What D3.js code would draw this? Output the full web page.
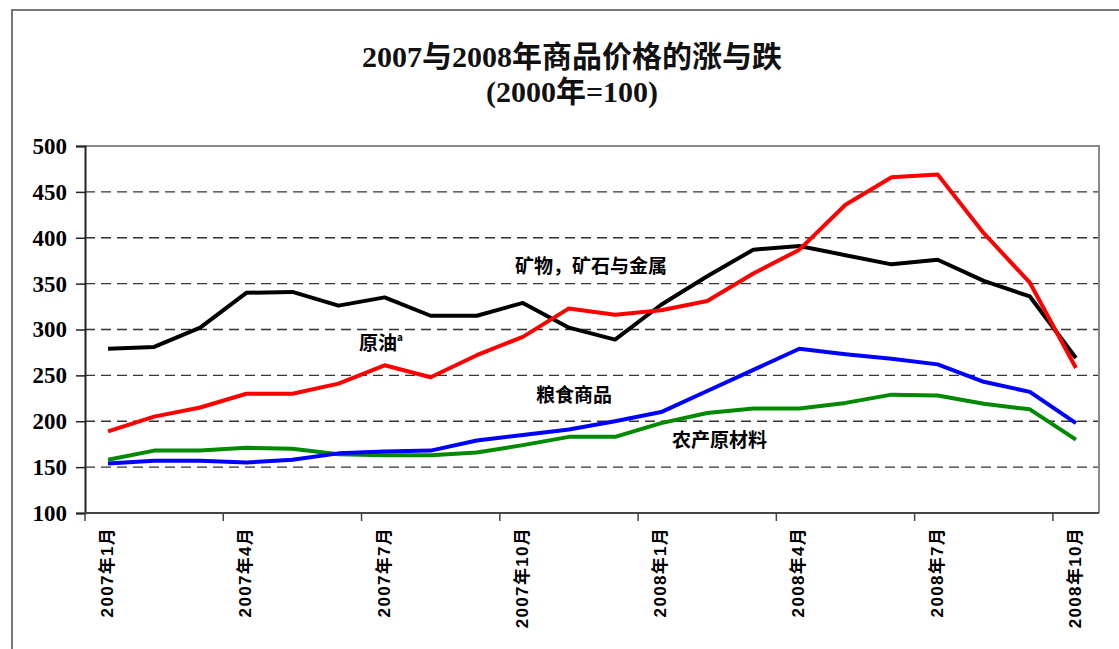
<!DOCTYPE html>
<html>
<head>
<meta charset="utf-8">
<script src="https://cdn.jsdelivr.net/npm/d3@7"></script>
<style>
  body { margin: 0; background: #fff; }
  #chart { width: 1119px; height: 649px; }
</style>
</head>
<body>
<div id="chart"></div>
<script>
// 月份 (類別)
const months = [
  '2007年1月', '2007年2月', '2007年3月', '2007年4月', '2007年5月', '2007年6月',
  '2007年7月', '2007年8月', '2007年9月', '2007年10月', '2007年11月', '2007年12月',
  '2008年1月', '2008年2月', '2008年3月', '2008年4月', '2008年5月', '2008年6月',
  '2008年7月', '2008年8月', '2008年9月', '2008年10月'
]
// 每三個月顯示一個刻度文字
const tickMonths = ['2007年1月', '2007年4月', '2007年7月', '2007年10月',
  '2008年1月', '2008年4月', '2008年7月', '2008年10月']
const yTicks = [100, 150, 200, 250, 300, 350, 400, 450, 500]

// 各系列 (2000年=100)
const metals = [279, 281, 302, 340, 341, 326, 335, 315, 315, 329, 302, 289,
  327, 358, 387, 391, 381, 371, 376, 353, 336, 269]
const crudeOil = [189, 205, 215, 230, 230, 241, 261, 248, 272, 292, 323, 316,
  321, 331, 361, 387, 436, 466, 469, 405, 351, 258]
const food = [154, 157, 157, 155, 158, 165, 167, 168, 179, 185, 191, 200,
  210, 233, 256, 279, 273, 268, 262, 243, 232, 198]
const agriRaw = [158, 168, 168, 171, 170, 164, 163, 163, 166, 174, 183, 183,
  198, 209, 214, 214, 220, 229, 228, 219, 213, 180]

const seriesNames = ['矿物，矿石与金属', '原油', '粮食商品', '农产原材料']

drawChart()

function drawChart() {
  const width = 1119, height = 649
  const left = 85, right = 1099, top = 146, bottom = 513

  const svg = d3.select('#chart')
    .append('svg')
    .attr('width', width)
    .attr('height', height)

  // 外框
  svg.append('rect')
    .attr('x', 12).attr('y', 10)
    .attr('width', 1200).attr('height', 700)
    .attr('fill', 'none')
    .attr('stroke', '#777')
    .attr('stroke-width', 2)

  // 標題
  const title = svg.append('text')
    .attr('text-anchor', 'middle')
    .style('font-family', '"Liberation Serif", "Noto Sans CJK SC", serif')
    .style('font-weight', 'bold')
    .style('font-size', '30px')
    .attr('fill', '#111')
  title.append('tspan').attr('x', 572).attr('y', 67).text('2007与2008年商品价格的涨与跌')
  title.append('tspan').attr('x', 572).attr('y', 102).text('(2000年=100)')

  // X 軸 scale (類別)
  const xScale = d3.scaleBand()
    .domain(months)
    .range([left, right])
    .padding(0)
  const xMid = d => xScale(d) + xScale.bandwidth() / 2

  // Y 軸 scale
  const yScale = d3.scaleLinear()
    .domain([100, 500])
    .range([bottom, top])

  // 格線 (虛線)
  svg.append('g')
    .selectAll('line')
    .data(yTicks.filter(d => d > 100 && d < 500))
    .join('line')
    .attr('x1', left).attr('x2', right)
    .attr('y1', d => yScale(d)).attr('y2', d => yScale(d))
    .attr('stroke', '#333')
    .attr('stroke-width', 1.3)
    .attr('stroke-dasharray', '10,6')

  // 圖區上、右邊框
  svg.append('path')
    .attr('d', `M${left},${top}H${right}V${bottom}`)
    .attr('fill', 'none')
    .attr('stroke', '#888')
    .attr('stroke-width', 2)

  // Y 軸
  const yAxis = d3.axisLeft(yScale)
    .tickValues(yTicks)
    .tickSize(9)
    .tickPadding(9)
  const yAxisGroup = svg.append('g')
    .attr('transform', `translate(${left},0)`)
    .call(yAxis)
  yAxisGroup.select('.domain').attr('stroke', '#222').attr('stroke-width', 2)
  yAxisGroup.selectAll('.tick line').attr('stroke', '#222').attr('stroke-width', 1.5)
  yAxisGroup.selectAll('.tick text')
    .style('font-family', '"Liberation Serif", serif')
    .style('font-weight', 'bold')
    .style('font-size', '23px')
    .attr('fill', '#000')

  // X 軸：刻度在每三個月的邊界
  const boundaries = d3.range(0, months.length, 3).map(i => xScale(months[i]))
  svg.append('line')
    .attr('x1', left).attr('x2', right)
    .attr('y1', bottom).attr('y2', bottom)
    .attr('stroke', '#444')
    .attr('stroke-width', 2)
  svg.append('g')
    .selectAll('line')
    .data(boundaries)
    .join('line')
    .attr('x1', d => d).attr('x2', d => d)
    .attr('y1', bottom).attr('y2', bottom + 8)
    .attr('stroke', '#444')
    .attr('stroke-width', 1.5)

  // X 軸文字 (直排)
  svg.append('g')
    .selectAll('text')
    .data(tickMonths)
    .join('text')
    .attr('transform', d => `translate(${xMid(d) - 1},${bottom + 14}) rotate(-90)`)
    .attr('text-anchor', 'end')
    .attr('dy', '0.35em')
    .style('font-family', '"Liberation Sans", "Noto Sans CJK SC", sans-serif')
    .style('font-weight', 'bold')
    .style('font-size', '17px')
    .style('letter-spacing', '1.3px')
    .attr('fill', '#000')
    .text(d => d)

  // 折線
  const seriesData = [
    { name: seriesNames[3], values: agriRaw, color: '#008a00' },
    { name: seriesNames[2], values: food, color: '#0000ff' },
    { name: seriesNames[0], values: metals, color: '#000000' },
    { name: seriesNames[1], values: crudeOil, color: '#ff0000' }
  ]
  const line = d3.line()
    .x((d, i) => xMid(months[i]))
    .y(d => yScale(d))

  svg.append('g')
    .selectAll('path')
    .data(seriesData)
    .join('path')
    .attr('fill', 'none')
    .attr('stroke', d => d.color)
    .attr('stroke-width', 4)
    .attr('stroke-linejoin', 'round')
    .attr('d', d => line(d.values))

  // 系列名稱標籤
  const labels = [
    { text: seriesNames[0], x: 515, y: 273 },
    { text: seriesNames[1], x: 359, y: 350 },
    { text: seriesNames[2], x: 536, y: 402 },
    { text: seriesNames[3], x: 672, y: 447 }
  ]
  const tags = svg.append('g')
    .selectAll('text')
    .data(labels)
    .join('text')
    .attr('x', d => d.x)
    .attr('y', d => d.y)
    .style('font-family', '"Noto Sans CJK SC", sans-serif')
    .style('font-weight', 'bold')
    .style('font-size', '19px')
    .attr('fill', '#000')
    .text(d => d.text)
  // 原油 的上標
  tags.filter(d => d.text === '原油')
    .append('tspan')
    .attr('dy', -9)
    .style('font-size', '10px')
    .text('a')
}
</script>
</body>
</html>
